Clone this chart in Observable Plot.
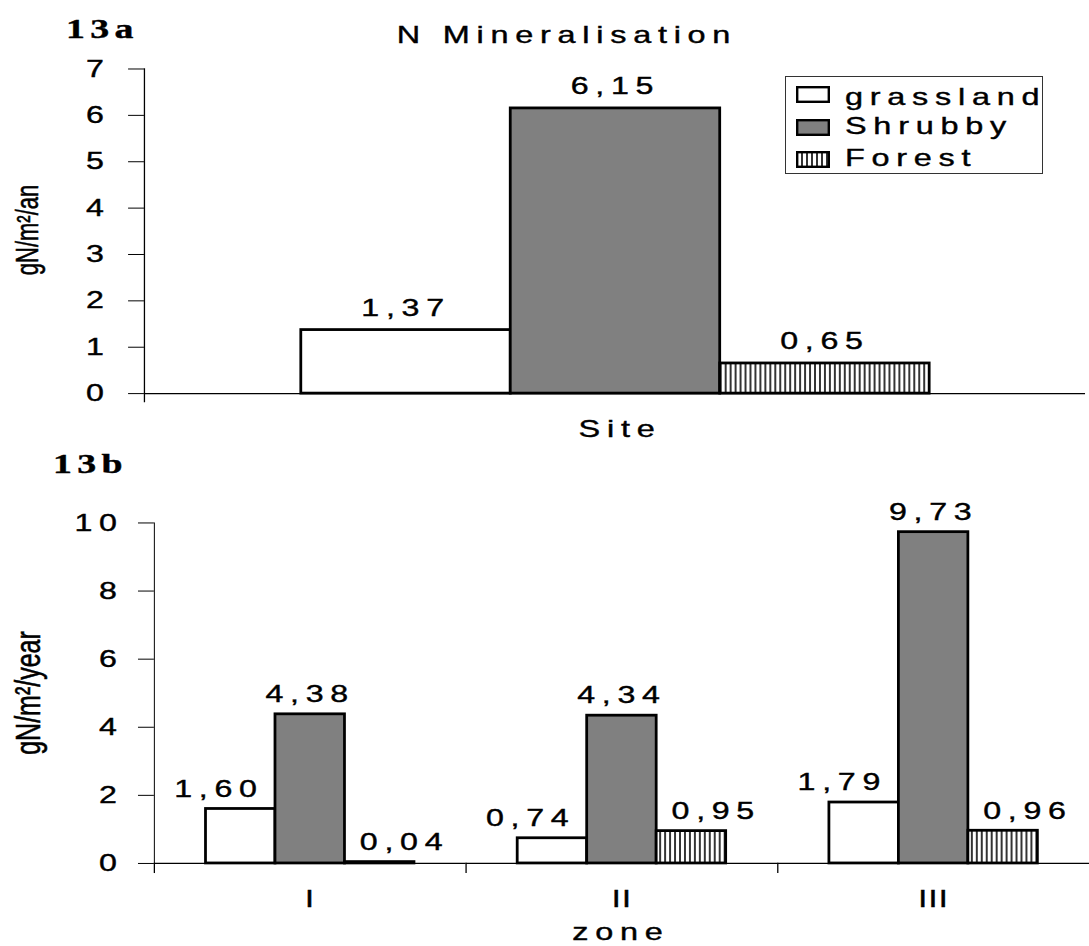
<!DOCTYPE html>
<html><head><meta charset="utf-8">
<script src="https://cdn.jsdelivr.net/npm/d3@7"></script>
<script src="https://cdn.jsdelivr.net/npm/@observablehq/plot@0.6"></script>
<style>
html,body{margin:0;padding:0;background:#fff;overflow:hidden;width:1089px;height:946px;}
#root{position:relative;width:1089px;height:946px;overflow:hidden;font-family:"Liberation Sans",Arial,sans-serif;color:#000;}
.t{position:absolute;white-space:nowrap;line-height:1;-webkit-text-stroke:0.4px #000;}
.p{position:absolute;left:0;}
svg text{stroke:#000;stroke-width:0.4px;}
</style></head><body>
<svg width="0" height="0" style="position:absolute">
  <defs>
    <pattern id="hatch" patternUnits="userSpaceOnUse" width="5" height="10">
      <rect width="5" height="10" fill="#fff"></rect>
      <line x1="1" x2="1" y1="0" y2="10" stroke="#000" stroke-width="1.6"></line>
    </pattern>
  </defs>
</svg>
<div id="root"></div>
<script>
// ---- data ----
const sites = ["grassland", "Shrubby", "Forest"];
const siteValues = [1.37, 6.15, 0.65];
const zones = ["I", "II", "III"];
const grasslandByZone = [1.60, 0.74, 1.79];
const shrubbyByZone = [4.38, 4.34, 9.73];
const forestByZone = [0.04, 0.95, 0.96];
const topTicks = [0, 1, 2, 3, 4, 5, 6, 7];
const bottomTicks = [0, 2, 4, 6, 8, 10];
const fills = ["#ffffff", "#808080", "url(#hatch)"];

const SX = 1.35;
const root = document.getElementById("root");
const fmt = v => d3.format(".2f")(v).replace(".", ",");

function stretch(svg, sx) {
  svg.querySelectorAll("text").forEach(t => {
    let tr = t.getAttribute("transform") || "";
    const x = t.getAttribute("x");
    if (x !== null && !isNaN(parseFloat(x))) {
      tr += ` translate(${parseFloat(x)},0)`;
      t.removeAttribute("x");
    }
    if (zones.includes(t.textContent.trim())) t.style.letterSpacing = "1px";
    t.setAttribute("transform", tr + ` scale(${sx},1)`);
  });
}

function addText(str, o) {
  const d = document.createElement("div");
  d.className = "t";
  d.textContent = str;
  d.style.left = o.left + "px";
  d.style.top = o.top + "px";
  d.style.fontSize = o.size + "px";
  if (o.family) d.style.fontFamily = o.family;
  if (o.weight) d.style.fontWeight = o.weight;
  d.style.letterSpacing = (o.ls ?? 5) + "px";
  if (o.rotate) {
    d.style.letterSpacing = "0px";
    d.style.transformOrigin = "center center";
    d.style.transform = `translate(-50%,-50%) rotate(-90deg) scaleY(${o.sy})`;
  } else if (o.anchor === "middle") {
    d.style.transformOrigin = "center top";
    d.style.transform = `translateX(-50%) scaleX(${SX})`;
  } else {
    d.style.transformOrigin = "left top";
    d.style.transform = `scaleX(${SX})`;
  }
  root.appendChild(d);
  return d;
}

const baseStyle = {fontFamily: "Liberation Sans", fontSize: "24px", color: "#000", background: "transparent", letterSpacing: "5px"};

// ---- top chart (13a) ----
const topData = sites.map((s, i) => ({site: s, value: siteValues[i]}));
const topPlot = Plot.plot({
  width: 1097, height: 445,
  marginLeft: 145, marginRight: 4, marginTop: 69, marginBottom: 49,
  style: baseStyle,
  x: {domain: sites, paddingInner: 0, paddingOuter: 0.736, axis: null},
  y: {domain: [0, 7], ticks: topTicks, tickSize: 16, tickPadding: 18, label: null, tickFormat: d => String(d)},
  color: {domain: sites, range: fills},
  marks: [
    Plot.frame({anchor: "left", insetBottom: -8, stroke: "#000", strokeWidth: 1.3}),
    Plot.barY(topData, {x: "site", y: "value", fill: "site", stroke: "#000", strokeWidth: 2.8}),
    Plot.ruleY([0], {stroke: "#000", strokeWidth: 1.3}),
    Plot.text(topData, {x: "site", y: "value", text: d => fmt(d.value), dy: -22, fill: "#000"})
  ]
});
stretch(topPlot, SX);
const topWrap = document.createElement("div");
topWrap.className = "p"; topWrap.style.top = "0px";
topWrap.appendChild(topPlot);
root.appendChild(topWrap);

// ---- bottom chart (13b) ----
const bottomData = zones.flatMap((z, i) => [
  {zone: z, site: sites[0], value: grasslandByZone[i]},
  {zone: z, site: sites[1], value: shrubbyByZone[i]},
  {zone: z, site: sites[2], value: forestByZone[i]}
]);
const labelShift = {grassland: -22, Shrubby: 0, Forest: 25};
const bottomPlot = Plot.plot({
  width: 1097, height: 496,
  marginLeft: 155, marginRight: 0, marginTop: 73, marginBottom: 80,
  style: baseStyle,
  fx: {domain: zones, padding: 0, axis: "bottom", tickSize: 0, tickPadding: 27, label: null},
  x: {domain: sites, paddingInner: 0, paddingOuter: 0.73, axis: null},
  y: {domain: [0, 10], ticks: bottomTicks, tickSize: 16, tickPadding: 15, label: null, line: true, tickFormat: d => String(d)},
  color: {domain: sites, range: fills},
  marks: [
    Plot.frame({anchor: "left", insetTop: 343, insetBottom: -9, stroke: "#000", strokeWidth: 1.3}),
    Plot.barY(bottomData, {fx: "zone", x: "site", y: "value", fill: "site", stroke: "#000", strokeWidth: 2.8}),
    Plot.ruleY([0], {stroke: "#000", strokeWidth: 1.3}),
    ...sites.map(s => Plot.text(bottomData.filter(d => d.site === s),
      {fx: "zone", x: "site", y: "value", text: d => fmt(d.value), dy: -20, dx: labelShift[s], fill: "#000"}))
  ]
});
stretch(bottomPlot, SX);
const botWrap = document.createElement("div");
botWrap.className = "p"; botWrap.style.top = "450px";
botWrap.appendChild(bottomPlot);
root.appendChild(botWrap);

// ---- titles & axis labels ----
addText("13a", {left: 66, top: 14.5, size: 28, family: "Liberation Serif", weight: "bold", ls: 4});
addText("13b", {left: 53, top: 449.5, size: 28, family: "Liberation Serif", weight: "bold", ls: 4});
addText("N Mineralisation", {left: 567, top: 22.7, size: 24, anchor: "middle"});
addText("Site", {left: 620, top: 416.7, size: 24, anchor: "middle"});
addText("zone", {left: 621, top: 920, size: 24, anchor: "middle"});
addText("gN/m²/an", {left: 28, top: 230, size: 22, rotate: true, sy: 1.4});
addText("gN/m²/year", {left: 28, top: 693, size: 25, rotate: true, sy: 1.4});

// ---- legend ----
const leg = document.createElement("div");
leg.style.cssText = "position:absolute;left:785px;top:76px;width:256px;height:96px;border:1.5px solid #333;background:#fff;";
root.appendChild(leg);
const rowSw = [87, 120, 152];
const rowTxt = [84.7, 113.7, 145.7];
sites.forEach((s, i) => {
  const sw = document.createElementNS("http://www.w3.org/2000/svg", "svg");
  sw.setAttribute("width", 34); sw.setAttribute("height", 17);
  sw.style.cssText = `position:absolute;left:796px;top:${rowSw[i] - 1}px;`;
  sw.innerHTML = `<rect x="1.2" y="1.2" width="31.6" height="14.6" fill="${fills[i]}" stroke="#000" stroke-width="2.4"></rect>`;
  root.appendChild(sw);
  addText(s, {left: 845, top: rowTxt[i], size: 24});
});
</script>
</body></html>
